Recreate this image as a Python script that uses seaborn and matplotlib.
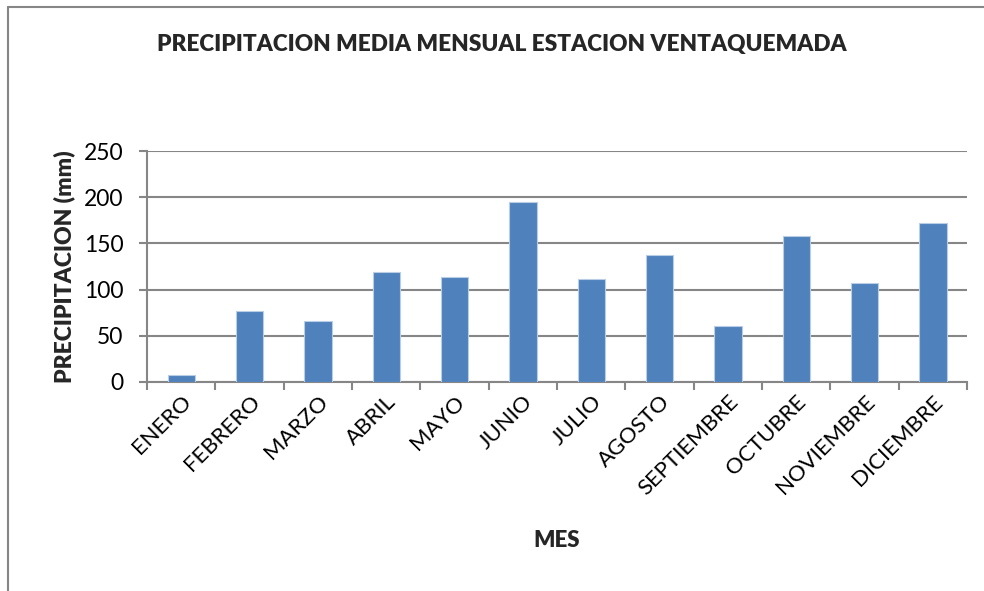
import matplotlib
matplotlib.use("Agg")
import matplotlib.pyplot as plt
from matplotlib.lines import Line2D
import seaborn as sns
import pandas as pd

# datos
meses = ["ENERO", "FEBRERO", "MARZO", "ABRIL", "MAYO", "JUNIO",
         "JULIO", "AGOSTO", "SEPTIEMBRE", "OCTUBRE", "NOVIEMBRE", "DICIEMBRE"]
precipitacion = [7.2, 76.3, 66.2, 119.4, 113.3, 195.3,
                 111.5, 137.4, 60.4, 158.3, 107.5, 172.3]

df = pd.DataFrame({"MES": meses, "PRECIPITACION": precipitacion})

gris = "#868686"
sns.set_style("white")
plt.rcParams["font.family"] = ["Lato", "DejaVu Sans"]
plt.rcParams.update({
    "xtick.bottom": True, "ytick.left": True,
    "xtick.direction": "out", "ytick.direction": "out",
    "xtick.color": gris, "ytick.color": gris,
    "xtick.labelcolor": "black", "ytick.labelcolor": "black",
})

fig = plt.figure(figsize=(9.84, 5.91), dpi=100)
ax = fig.add_axes([147 / 984, 1 - 382 / 591, 820 / 984, 231 / 591])

sns.barplot(data=df, x="MES", y="PRECIPITACION", color="#4F81BD", width=0.4,
            saturation=1, edgecolor="#B9CDE5", linewidth=0.8, ax=ax, zorder=3)

ax.set_ylim(0, 250)
ax.set_yticks(range(0, 251, 50))
ax.set_xlim(-0.5, len(meses) - 0.5)
ax.yaxis.grid(True, color=gris, linewidth=1.5, zorder=0)
ax.set_axisbelow(True)

for lado in ["top", "right"]:
    ax.spines[lado].set_visible(False)
for lado in ["left", "bottom"]:
    ax.spines[lado].set_color(gris)
    ax.spines[lado].set_linewidth(1.5)

# marcas en los limites de categoria, etiquetas en el centro
ax.set_xticks([i - 0.5 for i in range(len(meses) + 1)])
ax.set_xticklabels([""] * (len(meses) + 1))
ax.set_xticks(range(len(meses)), minor=True)
ax.set_xticklabels(meses, minor=True, rotation=45, ha="right", rotation_mode="anchor")
ax.tick_params(axis="y", left=True, length=6, width=1.5, labelsize=16.5, pad=11)
ax.tick_params(axis="x", which="major", bottom=True, length=6, width=1.5,
               color=gris, direction="out")
ax.tick_params(axis="x", which="minor", bottom=True, length=0, labelsize=16, pad=7)
ax.xaxis.set_ticks_position("bottom")

# forzar la visibilidad de las marcas del eje x
for t in ax.xaxis.get_major_ticks():
    t.tick1line.set_visible(True)
    t.tick1line.set_markersize(6)
    t.tick1line.set_markeredgewidth(1.5)
    t.tick1line.set_color(gris)
    t.tick1line.set_zorder(5)

ax.set_xlabel("MES", fontsize=16, fontweight="heavy", labelpad=22)
ax.set_ylabel("PRECIPITACION (mm)", fontsize=16.5, fontweight="heavy", labelpad=6)
fig.text(0.51, 1 - 44 / 591, "PRECIPITACION MEDIA MENSUAL ESTACION VENTAQUEMADA",
         ha="center", va="center", fontsize=16.3, fontweight="heavy")

# marco del grafico
fig.add_artist(Line2D([7.5 / 984, 1], [1 - 6.5 / 591, 1 - 6.5 / 591],
                      color=gris, linewidth=1.5, transform=fig.transFigure))
fig.add_artist(Line2D([7.5 / 984, 7.5 / 984], [0, 1 - 6.5 / 591],
                      color=gris, linewidth=1.5, transform=fig.transFigure))

fig.savefig("out.png", dpi=100)
